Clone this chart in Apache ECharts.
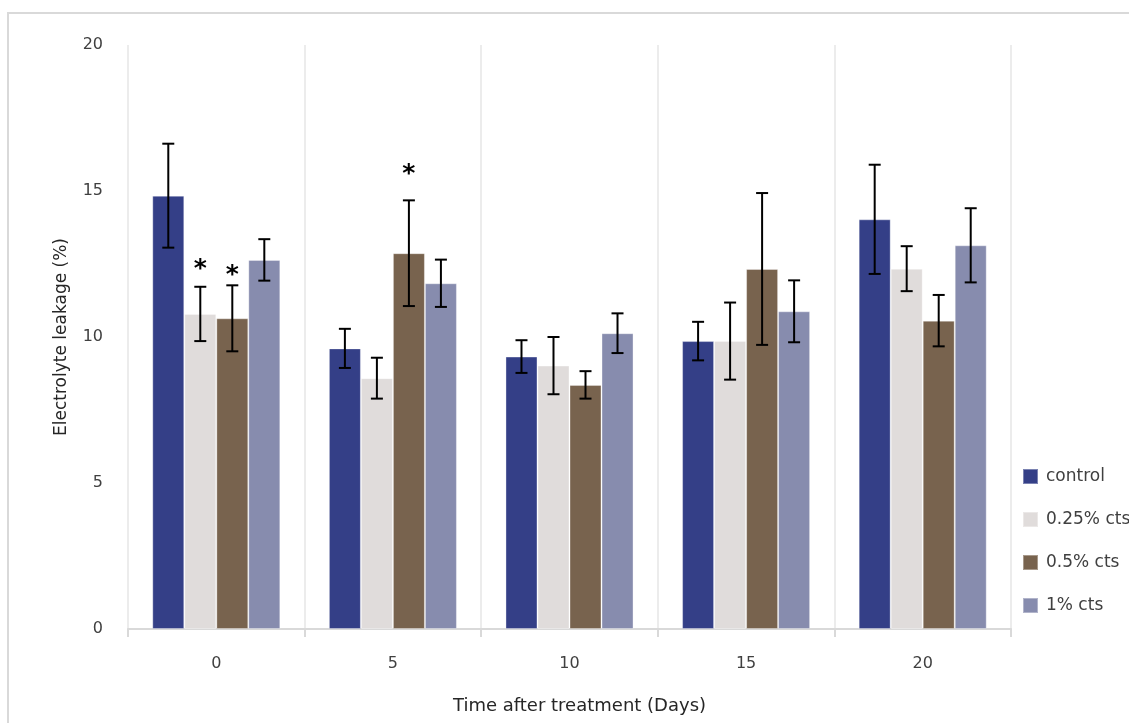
<!DOCTYPE html>
<html>
<head>
<meta charset="utf-8">
<script src="https://cdn.jsdelivr.net/npm/echarts@6/dist/echarts.min.js"></script>
<style>
  html, body { margin: 0; padding: 0; background: #fff; }
  #chart { width: 1129px; height: 723px; }
</style>
</head>
<body>
<div id="chart"></div>
<script>
// datos
const days = ["0", "5", "10", "15", "20"];
const seriesNames = ["control", "0.25% cts", "0.5% cts", "1% cts"];
const colors = ["#343f87", "#e0dcdb", "#78634e", "#878cae"];

const controlMean = [14.84, 9.61, 9.33, 9.86, 14.03];
const cts025Mean = [10.79, 8.59, 9.02, 9.86, 12.34];
const cts05Mean = [10.64, 12.87, 8.36, 12.33, 10.56];
const cts1Mean = [12.64, 11.84, 10.13, 10.88, 13.14];

const controlErr = [1.78, 0.67, 0.56, 0.66, 1.87];
const cts025Err = [0.93, 0.70, 0.98, 1.32, 0.77];
const cts05Err = [1.13, 1.81, 0.47, 2.60, 0.88];
const cts1Err = [0.71, 0.81, 0.68, 1.06, 1.27];

// asteriscos: [dia, serie, altura]
const stars = [[0, 1, 12.47], [0, 2, 12.29], [1, 2, 15.75]];

const means = [controlMean, cts025Mean, cts05Mean, cts1Mean];
const errs = [controlErr, cts025Err, cts05Err, cts1Err];

const GAP = 0.275;
const FONT = "DejaVu Sans";

function barOffset(api, k) {
  const band = api.size([1, 0])[0];
  const bw = band * (1 - GAP) / 4;
  return (k - 1.5) * bw;
}

const series = [];
for (let k = 0; k < 4; k++) {
  series.push({
    name: seriesNames[k],
    type: "bar",
    barGap: 0,
    barCategoryGap: GAP * 100 + "%",
    itemStyle: { color: colors[k], borderColor: "rgba(255,255,255,0.35)", borderWidth: 1 },
    data: means[k]
  });
}
for (let k = 0; k < 4; k++) {
  series.push({
    type: "custom",
    silent: true,
    z: 5,
    data: means[k].map(function (m, i) {
      return [i, m - errs[k][i], m + errs[k][i]];
    }),
    renderItem: function (params, api) {
      const top = api.coord([api.value(0), api.value(2)]);
      const bot = api.coord([api.value(0), api.value(1)]);
      const x = top[0] + barOffset(api, k);
      const cap = 6;
      const st = { stroke: "#000", lineWidth: 2 };
      return {
        type: "group",
        children: [
          { type: "line", shape: { x1: x, y1: top[1], x2: x, y2: bot[1] }, style: st },
          { type: "line", shape: { x1: x - cap, y1: top[1], x2: x + cap, y2: top[1] }, style: st },
          { type: "line", shape: { x1: x - cap, y1: bot[1], x2: x + cap, y2: bot[1] }, style: st }
        ]
      };
    }
  });
}
series.push({
  type: "custom",
  silent: true,
  z: 6,
  data: stars,
  renderItem: function (params, api) {
    const p = api.coord([api.value(0), api.value(2)]);
    const x = p[0] + barOffset(api, api.value(1));
    return {
      type: "text",
      x: x,
      y: p[1] + 5,
      style: {
        text: "*",
        font: "bold 25px " + FONT,
        fill: "#000",
        align: "center",
        verticalAlign: "middle"
      }
    };
  }
});

const option = {
  animation: false,
  textStyle: { fontFamily: FONT },
  grid: { left: 128, right: 118, top: 45, bottom: 94 },
  legend: {
    orient: "vertical",
    left: 1017,
    top: 463,
    itemWidth: 15,
    itemHeight: 15,
    itemGap: 26,
    icon: "rect",
    data: seriesNames,
    textStyle: { fontSize: 17, color: "#404040", fontFamily: FONT, padding: [0, 0, 0, 3] }
  },
  xAxis: {
    type: "category",
    data: days,
    name: "Time after treatment (Days)",
    nameLocation: "middle",
    nameGap: 68,
    nameTextStyle: { fontSize: 18, color: "#262626", padding: [0, 0, 0, 20] },
    axisLine: { lineStyle: { color: "#d9d9d9", width: 2 } },
    axisTick: { show: true, length: 8, lineStyle: { color: "#d9d9d9", width: 2 } },
    splitLine: { show: true, lineStyle: { color: "#e6e6e6", width: 1.5 } },
    axisLabel: { fontSize: 16, color: "#404040", margin: 27 }
  },
  yAxis: {
    type: "value",
    min: 0,
    max: 20,
    interval: 5,
    name: "Electrolyte leakage (%)",
    nameLocation: "middle",
    nameGap: 58,
    nameTextStyle: { fontSize: 17, color: "#262626" },
    axisLine: { show: false },
    axisTick: { show: false },
    splitLine: { show: false },
    axisLabel: { fontSize: 16, color: "#404040", margin: 25 }
  },
  graphic: [
    {
      type: "rect",
      silent: true,
      shape: { x: 8, y: 13, width: 1200, height: 800 },
      style: { fill: "none", stroke: "#d9d9d9", lineWidth: 2 }
    }
  ],
  series: series
};

const myChart = echarts.init(document.getElementById("chart"), null, { renderer: "canvas" });
myChart.setOption(option);
</script>
</body>
</html>
